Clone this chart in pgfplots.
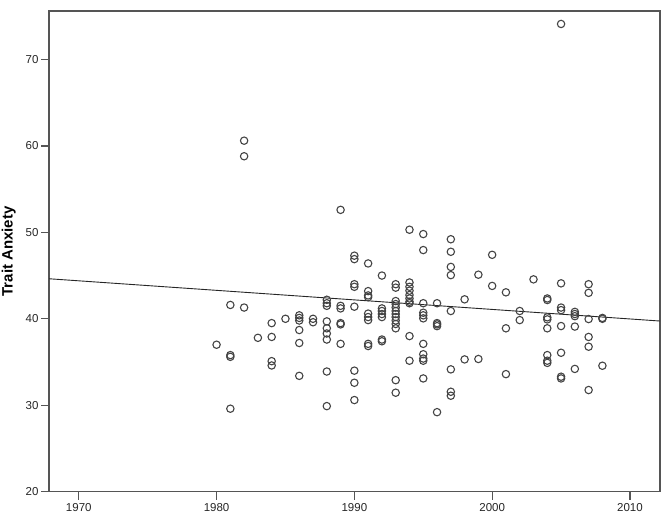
\documentclass[border=0pt]{standalone}
\usepackage{pgfplots}
\pgfplotsset{compat=1.18}
\usepackage{fontspec}
\setmainfont{Liberation Sans}
\definecolor{framegray}{HTML}{555555}
\definecolor{markgray}{HTML}{444444}
\begin{document}
\begin{tikzpicture}[x=1pt,y=1pt]
\path[use as bounding box] (0,0) rectangle (661,522);
\begin{axis}[
  at={(49pt,30.3pt)}, anchor=south west,
  scale only axis, width=611pt, height=480.7pt,
  xmin=1967.84, xmax=2012.18, ymin=20, ymax=75.6,
  xtick={1970,1980,1990,2000,2010},
  ytick={20,30,40,50,60,70},
  xticklabel style={/pgf/number format/1000 sep={}},
  /pgf/number format/assume math mode=true,
  tick label style={font=\fontsize{11.5}{13}\selectfont, text=black!85},
  axis line style={framegray, line width=1.3pt},
  tick style={framegray, line width=1.3pt},
  tick align=outside, major tick length=8pt,
  xtick pos=bottom, ytick pos=left,
  yticklabel style={xshift=1pt},
  xticklabel style={yshift=0pt},
  ylabel={\bfseries Trait Anxiety},
  ylabel style={font=\fontsize{15}{17}\selectfont, at={(ticklabel cs:0.5)}, anchor=south, yshift=3pt},
  clip=true,
]
\addplot[only marks, mark=o, mark size=3.7pt, mark options={draw=markgray, line width=1.1pt}] coordinates {
(1980,37.0)
(1981,41.6)(1981,35.8)(1981,35.6)(1981,29.6)
(1982,60.6)(1982,58.8)(1982,41.3)
(1983,37.8)
(1984,39.5)(1984,37.9)(1984,35.1)(1984,34.6)
(1985,40.0)
(1986,40.4)(1986,40.1)(1986,39.8)(1986,38.7)(1986,37.2)(1986,33.4)
(1987,40.0)(1987,39.6)
(1988,42.2)(1988,41.8)(1988,41.5)(1988,39.7)(1988,38.9)(1988,38.3)(1988,37.6)(1988,33.9)(1988,29.9)
(1989,52.6)(1989,41.5)(1989,41.2)(1989,39.5)(1989,39.35)(1989,37.1)
(1990,47.3)(1990,46.9)(1990,44.0)(1990,43.7)(1990,41.4)(1990,34.0)(1990,32.6)(1990,30.6)
(1991,46.4)(1991,43.2)(1991,42.7)(1991,42.5)(1991,40.6)(1991,40.2)(1991,39.85)(1991,37.1)(1991,36.85)
(1992,45.0)(1992,41.2)(1992,40.9)(1992,40.55)(1992,40.2)(1992,37.6)(1992,37.4)
(1993,44.0)(1993,43.6)(1993,42.05)(1993,41.7)(1993,41.3)(1993,40.9)(1993,40.55)(1993,40.2)(1993,39.8)(1993,39.4)(1993,38.9)(1993,32.9)(1993,31.45)
(1994,50.3)(1994,44.2)(1994,43.7)(1994,43.25)(1994,42.75)(1994,42.35)(1994,41.97)(1994,41.8)(1994,38.0)(1994,35.15)
(1995,49.8)(1995,47.95)(1995,41.8)(1995,40.7)(1995,40.4)(1995,40.05)(1995,37.1)(1995,35.9)(1995,35.4)(1995,35.15)(1995,33.1)
(1996,41.8)(1996,39.5)(1996,39.35)(1996,39.15)(1996,29.2)
(1997,49.2)(1997,47.75)(1997,46.0)(1997,45.05)(1997,40.9)(1997,34.15)(1997,31.56)(1997,31.1)
(1998,42.25)(1998,35.3)
(1999,45.1)(1999,35.35)
(2000,47.4)(2000,43.8)
(2001,43.06)(2001,38.9)(2001,33.6)
(2002,40.9)(2002,39.85)
(2003,44.56)
(2004,42.35)(2004,42.17)(2004,40.17)(2004,39.93)(2004,38.9)(2004,35.8)(2004,35.15)(2004,34.9)
(2005,74.1)(2005,44.1)(2005,41.3)(2005,41.0)(2005,39.16)(2005,36.07)(2005,33.3)(2005,33.1)
(2006,40.8)(2006,40.55)(2006,40.3)(2006,39.1)(2006,34.2)
(2007,44.0)(2007,43.0)(2007,39.97)(2007,37.9)(2007,36.77)(2007,31.76)
(2008,40.1)(2008,40.0)(2008,34.57)
};
\addplot[black!85, line width=0.9pt] coordinates {(1967.84,44.63) (2012.18,39.74)};
\end{axis}
\end{tikzpicture}
\end{document}
